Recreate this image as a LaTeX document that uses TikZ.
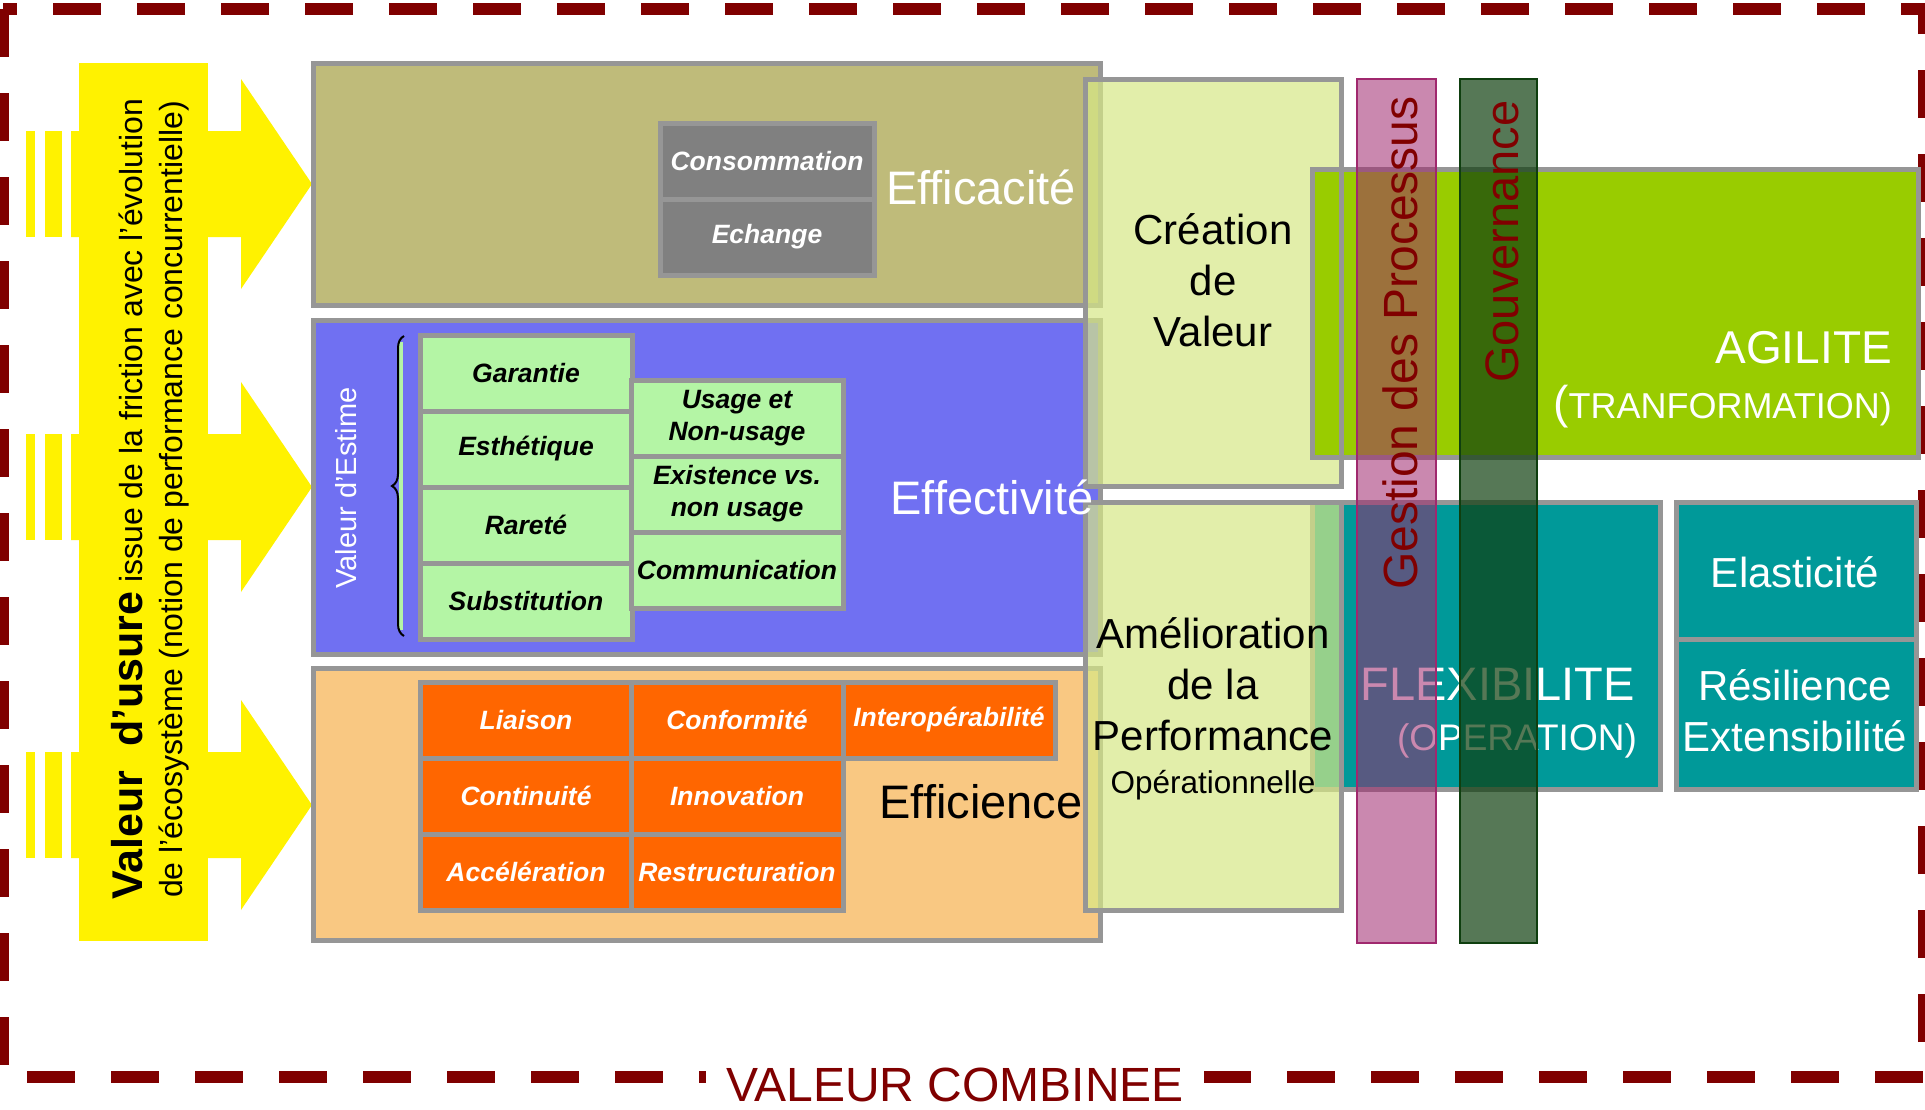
\documentclass[tikz,border=0pt]{standalone}
\usepackage{fontspec}
\setmainfont{Liberation Sans}
\usetikzlibrary{decorations.pathreplacing}

\definecolor{dkred}{HTML}{800000}
\definecolor{boxgray}{HTML}{969696}
\definecolor{olivebg}{HTML}{BFBB7A}
\definecolor{bluebg}{HTML}{7070F2}
\definecolor{orangebg}{HTML}{F9C882}
\definecolor{paleg}{HTML}{D7E886}
\definecolor{cellgreen}{HTML}{B4F5A5}
\definecolor{cellorange}{HTML}{FF6600}
\definecolor{cellgray}{HTML}{808080}
\definecolor{agile}{HTML}{99CC00}
\definecolor{tealbox}{HTML}{009999}
\definecolor{pinkstrip}{HTML}{A0286E}
\definecolor{greenstrip}{HTML}{0F3F0F}

\newcommand\fsz[2]{\fontsize{#1}{#2}\selectfont}

\begin{document}
\begin{tikzpicture}[x=1pt, y=-1pt,
  box/.style={draw=boxgray, line width=5pt},
  cell/.style={box, minimum width=212pt, minimum height=76pt, inner sep=0pt,
    align=center, font=\fsz{26.5}{31.8}\bfseries\itshape},
  graycell/.style={cell, fill=cellgray, text=white, minimum width=214pt},
  greencell/.style={cell, fill=cellgreen, text=black},
  orangecell/.style={cell, fill=cellorange, text=white},
  biglabel/.style={inner sep=0pt, anchor=base, font=\fsz{47}{56}},
  sidelabel/.style={inner sep=0pt, text=white, font=\fsz{42}{51}},
  arrowfill/.style={fill=yellow},
  striptext/.style={rotate=90, anchor=base west, inner sep=0pt, text=dkred,
    font=\fsz{48}{58}}]

  \useasboundingbox (0,0) rectangle (1925,1109);
  \fill[white] (0,0) rectangle (1925,1109);

  %% dashed frame
  \draw[dkred, line width=12pt, dash pattern=on 48pt off 36pt]
  (3,9) -- (3,1077) -- (1924,1077) -- (1924,9) -- cycle;

  %% yellow bar and arrows
  \fill[arrowfill] (79,63) rectangle (208,941);
  \fill[arrowfill] (71,131) -- (241,131) -- (241,79) -- (312,184)
  -- (241,289) -- (241,237) -- (71,237) -- cycle; %% top
  \fill[arrowfill] (26,131) rectangle (35,237);
  \fill[arrowfill] (45,131) rectangle (62,237);
  \fill[arrowfill] (71,434) -- (241,434) -- (241,382) -- (312,487)
  -- (241,592) -- (241,540) -- (71,540) -- cycle; %% middle
  \fill[arrowfill] (26,434) rectangle (35,540);
  \fill[arrowfill] (45,434) rectangle (62,540);
  \fill[arrowfill] (71,752) -- (241,752) -- (241,700) -- (312,805)
  -- (241,910) -- (241,858) -- (71,858) -- cycle; %% bottom
  \fill[arrowfill] (26,752) rectangle (35,858);
  \fill[arrowfill] (45,752) rectangle (62,858);

  \node[rotate=90, anchor=base west, inner sep=0pt] (usure) at (142,900)
  {\fsz{43}{50}\bfseries Valeur\ \ d’usure\fsz{32}{38}\mdseries\ issue de la friction avec l’évolution};
  \node[rotate=90, anchor=base west, inner sep=0pt] (ecosys) at (182,898)
  {\fsz{32}{38}de l’écosystème (notion de performance concurrentielle)};

  %% left boxes
  \draw[box, fill=olivebg] (313,63) rectangle (1100,305);
  \draw[box, fill=bluebg] (313,320) rectangle (1100,654);
  \draw[box, fill=orangebg] (313,668) rectangle (1100,940);

  %% efficacite
  \node[graycell] (conso) at (767,161) {Consommation};
  \node[graycell] (echange) at (767,237) {Echange};

  %% effectivite
  \node[rotate=90, text=white, inner sep=0pt, font=\fsz{29}{35}] (estime) at (346,488) {Valeur d’Estime};
  \draw[cellgreen, line width=4pt] (401,342) -- (401,630);
  \draw[line width=2pt, decorate, decoration={brace, amplitude=12pt}] (404,636) -- (404,336);
  \node[greencell] (garantie) at (526,373) {Garantie};
  \node[greencell] (esthetique) at (526,449) {Esthétique};
  \node[greencell] (rarete) at (526,525) {Rareté};
  \node[greencell] (substitution) at (526,601) {Substitution};
  \node[greencell] (usage) at (737,418) {Usage et\\Non-usage};
  \node[greencell] (existence) at (737,494) {Existence vs.\\non usage};
  \node[greencell] (communication) at (737,570) {Communication};

  %% efficience
  \node[orangecell] (liaison) at (526,720) {Liaison};
  \node[orangecell] (conformite) at (737,720) {Conformité};
  \node[orangecell] (interop) at (949,720) {Interopérabilité};
  \node[orangecell] (continuite) at (526,796) {Continuité};
  \node[orangecell] (innovation) at (737,796) {Innovation};
  \node[orangecell] (acceleration) at (526,872) {Accélération};
  \node[orangecell] (restructuration) at (737,872) {Restructuration};

  %% teal boxes
  \draw[box, fill=tealbox] (1312,502) rectangle (1660,789);
  \draw[box, fill=tealbox] (1676,502) rectangle (1916,639);
  \draw[box, fill=tealbox] (1676,639) rectangle (1916,789);

  %% creation / amelioration
  \draw[box, fill=paleg, fill opacity=0.7] (1085,79) rectangle (1341,486);
  \draw[box, fill=paleg, fill opacity=0.7] (1085,502) rectangle (1341,910);

  %% agilite
  \draw[box, fill=agile] (1312,169) rectangle (1918,457);
  \draw[box] (1085,79) rectangle (1341,486);

  %% labels
  \node[biglabel, text=white] (efficacite) at (981,204) {Efficacité};
  \node[biglabel, text=white] (effectivite) at (992,514) {Effectivité};
  \node[biglabel] (efficience) at (981,818) {Efficience};
  \node[sidelabel, text=black, align=center] (creation) at (1213,280) {Création\\de\\Valeur};
  \node[sidelabel, text=black, align=center] (amelioration) at (1213,684)
  {Amélioration\\de la\\Performance};
  \node[inner sep=0pt, anchor=base, font=\fsz{31.5}{38}] (operationnelle) at (1213,793) {Opérationnelle};
  \node[inner sep=0pt, anchor=base east, text=white, font=\fsz{46}{55}] (agilite) at (1892,363) {AGILITE};
  \node[inner sep=0pt, anchor=base east, text=white, font=\fsz{36}{43}] (tranfo) at (1892,418)
  {{\fsz{46}{55}(}TRANFORMATION)};
  \node[inner sep=0pt, anchor=base east, text=white, font=\fsz{47}{56}] (flexi) at (1635,700) {FLEXIBILITE};
  \node[inner sep=0pt, anchor=base east, text=white, font=\fsz{37}{44}] (operation) at (1637,750) {(OPERATION)};
  \node[sidelabel, anchor=base] (elasticite) at (1795,587) {Elasticité};
  \node[sidelabel, align=center] (resilience) at (1795,711) {Résilience\\Extensibilité};

  %% strips
  \draw[pinkstrip, line width=1.5pt, fill=pinkstrip, fill opacity=0.55] (1357,79) rectangle (1436,943);
  \draw[greenstrip, line width=1.5pt, fill=greenstrip, fill opacity=0.7] (1460,79) rectangle (1537,943);
  \node[striptext] (processus) at (1417,590) {Gestion des Processus};
  \node[striptext, font=\fsz{47}{56}] (gouvernance) at (1518,383) {Gouvernance};

  %% valeur combinee
  \node[fill=white, text=dkred, inner xsep=20pt, inner ysep=4pt, anchor=base,
  font=\fsz{48}{58}] (combinee) at (955,1101) {VALEUR COMBINEE};

\end{tikzpicture}
\end{document}
